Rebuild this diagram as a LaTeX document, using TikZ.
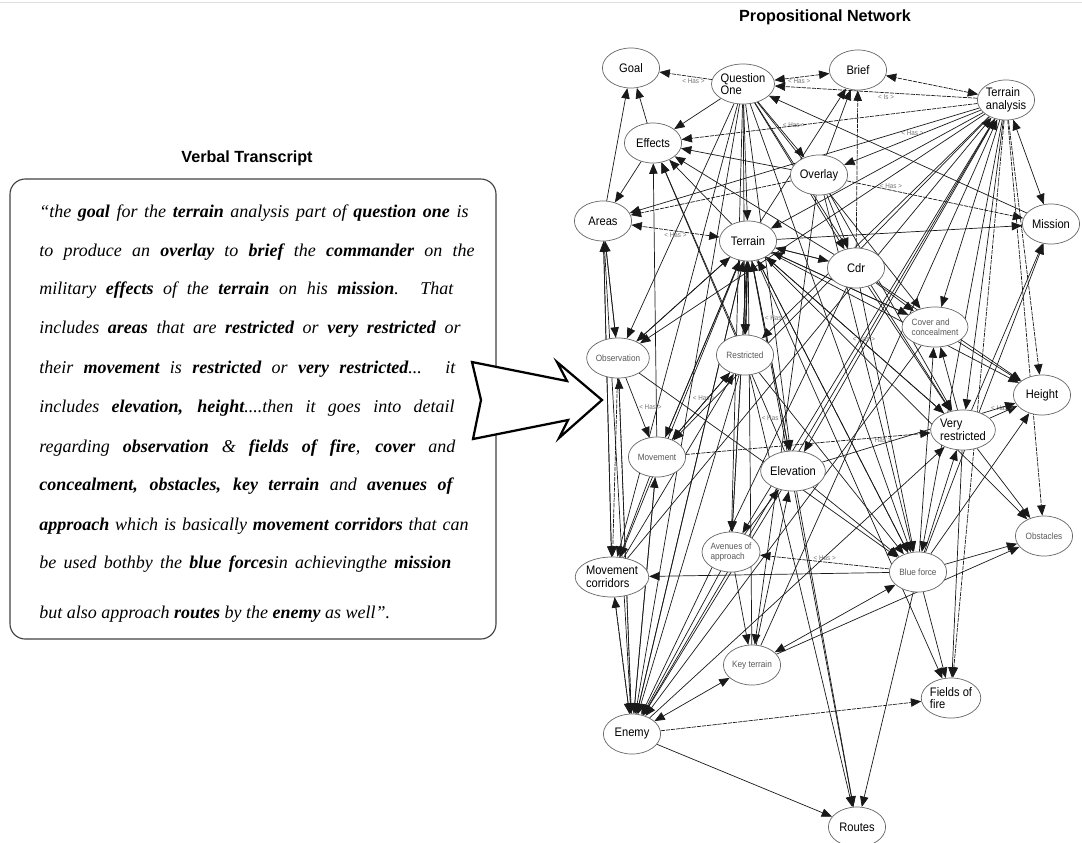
\documentclass[tikz,border=0pt]{standalone}
\usepackage{fontspec}
\setmainfont{Liberation Serif}
\setsansfont{Liberation Sans}
\newfontfamily\netfont[FakeStretch=0.9]{Liberation Sans}
\usepackage{tikz}
\usetikzlibrary{shapes.geometric,arrows.meta,backgrounds}

\begin{document}
\begin{tikzpicture}[x=0.025cm, y=-0.025cm, >={Triangle[length=2.6mm,width=2.1mm]},
    prop/.style={ellipse, draw=black!60, fill=white, line width=0.5pt, minimum width=1.43cm, minimum height=1cm, inner sep=0pt, align=center, font=\netfont\fontsize{8.8}{9}\selectfont},
    faint/.style={prop, text=black!65, font=\netfont\fontsize{6.5}{6.8}\selectfont},
    arr/.style={->, draw=black!90, line width=0.5pt},
    darr/.style={arr, dash pattern=on 3pt off 0.7pt},
    lbl/.style={font=\netfont\fontsize{5}{5}\selectfont, text=black!55, inner sep=1pt},
    title/.style={font=\sffamily\bfseries\fontsize{11.5}{12}\selectfont},
    vline/.style={anchor=base west, inner sep=0pt, font=\itshape\fontsize{12.8}{14}\selectfont}]

\useasboundingbox (0,0) rectangle (1082,842);
\draw[black!12] (0,2) -- (1082,2);

% verbal transcript
\node[title] (vtitle) at (247,158) {Verbal Transcript};
\draw[black!75, line width=0.8pt, rounded corners=0.38cm] (10,179) rectangle (496,639);
\node[vline] (l1) at (39,217) {\makebox[10.73cm][s]{“the \textbf{goal} for the \textbf{terrain} analysis part of \textbf{question one} is}};
\node[vline] (l2) at (39,256) {\makebox[10.88cm][s]{to produce an \textbf{overlay} to \textbf{brief} the \textbf{commander} on the}};
\node[vline] (l3) at (39,294) {\makebox[10.35cm][s]{military \textbf{effects} of the \textbf{terrain} on his \textbf{mission}. That}};
\node[vline] (l4) at (39,333) {\makebox[10.53cm][s]{includes \textbf{areas} that are \textbf{restricted} or \textbf{very restricted} or}};
\node[vline] (l5) at (39,373) {\makebox[10.4cm][s]{their \textbf{movement} is \textbf{restricted} or \textbf{very restricted}... it}};
\node[vline] (l6) at (39,412) {\makebox[10.38cm][s]{includes \textbf{elevation, height}....then it goes into detail}};
\node[vline] (l7) at (39,452) {\makebox[10.4cm][s]{regarding \textbf{observation} \& \textbf{fields of fire}, \textbf{cover} and}};
\node[vline] (l8) at (39,490) {\makebox[10.33cm][s]{\textbf{concealment, obstacles, key terrain} and \textbf{avenues of}}};
\node[vline] (l9) at (39,530) {\makebox[10.73cm][s]{\textbf{approach} which is basically \textbf{movement corridors} that can}};
\node[vline] (l10) at (39,568) {\makebox[10.3cm][s]{be used bothby the \textbf{blue forces}in achievingthe \textbf{mission}}};
\node[vline] (l11) at (39,618) {but also approach \textbf{routes} by the \textbf{enemy} as well”.};

% big arrow
\draw[line width=1.6pt, fill=white, line join=miter] (472,362) -- (567,381) -- (557,362) -- (602,400) -- (559,438) -- (568,420) -- (473,439) -- (481,400) -- cycle;

% propositional network
\node[title] (ntitle) at (825,17) {Propositional Network};

\node[prop] (goal) at (631,68) {Goal};
\node[prop, align=left] (q1) at (743,84) {Question\\One};
\node[prop] (brief) at (858,70) {Brief};
\node[prop, align=left] (ta) at (1006,100) {Terrain\\analysis};
\node[prop] (effects) at (653,143) {Effects};
\node[prop] (overlay) at (819,175) {Overlay};
\node[prop] (areas) at (603,221) {Areas};
\node[prop] (terrain) at (748,241) {Terrain};
\node[prop] (mission) at (1051,224) {Mission};
\node[prop] (cdr) at (856,268) {Cdr};
\node[faint, align=left] (cover) at (935,327) {Cover and\\concealment};
\node[faint] (obs) at (618,358) {Observation};
\node[faint] (restr) at (745,355) {Restricted};
\node[prop] (height) at (1042,395) {Height};
\node[prop, align=left] (veryr) at (963,430) {Very\\restricted};
\node[faint] (movement) at (657,457) {Movement};
\node[prop] (elev) at (793,471) {Elevation};
\node[faint, align=left] (avenues) at (731,552) {Avenues of\\approach};
\node[faint] (obstacles) at (1044,536) {Obstacles};
\node[prop, align=left] (mcorr) at (612,577) {Movement\\corridors};
\node[faint] (blue) at (918,572) {Blue force};
\node[faint] (keyt) at (752,665) {Key terrain};
\node[prop, align=left] (fields) at (951,698) {Fields of\\fire};
\node[prop] (enemy) at (632,734) {Enemy};
\node[prop] (routes) at (857,827) {Routes};

\begin{pgfonlayer}{background}
% question one
\draw[darr] (q1) -- node[lbl, below, pos=0.35] {< Has >} (goal);
\draw[darr, <->] (q1) -- node[lbl, below, pos=0.45] {< Has >} (brief);
\draw[arr] (q1) -- (effects);
\draw[arr] (q1) -- node[lbl, above right, pos=0.5] {< Has >} (overlay);
\foreach \dst in {terrain, obs, restr, elev, cdr, cover, veryr, blue, mcorr, avenues, enemy}
  \draw[arr] (q1) -- (\dst);

% terrain analysis
\draw[darr, <->] (ta) -- (brief);
\draw[darr] (ta) -- node[lbl, below, pos=0.45] {< Is >} (q1);
\draw[darr] (ta) -- (effects);
\draw[arr] (ta) -- node[lbl, above, pos=0.5] {< Has >} (overlay);
\draw[arr, <->] (ta) -- (mission);
\foreach \dst in {height, obstacles, fields}
  \draw[darr] (ta) -- (\dst);
\foreach \dst in {terrain, areas, obs, movement, restr, cover, veryr, blue, elev, avenues}
  \draw[arr] (ta) -- (\dst);
\foreach \src in {mcorr, enemy, keyt}
  \draw[arr] (\src) -- (ta);

% overlay
\draw[arr] (overlay) -- (effects);
\draw[darr] (overlay) -- (areas);
\draw[darr] (overlay) -- node[lbl, above, pos=0.25] {< Has >} (mission);
\draw[arr] (overlay) -- (brief);
\foreach \dst in {cdr, blue, veryr, keyt}
  \draw[arr] (overlay) -- (\dst);

% terrain
\draw[darr, <->] (terrain) -- node[lbl, below, pos=0.5] {< Has >} (areas);
\draw[arr] (terrain) -- node[lbl, right, pos=0.3] {< Has >} (elev);
\draw[arr] (terrain) -- node[lbl, above, pos=0.55] {< Has >} (veryr);
\draw[arr, line width=1pt] (terrain) -- (restr);
\foreach \dst in {mission, effects, cdr, brief, obs, movement, cover, height, blue, fields, routes, avenues, mcorr, enemy, obstacles}
  \draw[arr] (terrain) -- (\dst);
\foreach \src in {obs, movement, elev, avenues, keyt, blue, enemy, cdr, veryr, cover}
  \draw[arr] (\src) -- (terrain);

% upper half
\draw[arr] (effects) -- (goal);
\draw[arr] (areas) -- (goal);
\draw[arr] (effects) -- (areas);
\foreach \src in {restr, cdr, elev, movement}
  \draw[arr] (\src) -- (effects);
\foreach \src in {obs, mcorr}
  \draw[arr] (\src) -- (areas);
\draw[darr] (cdr) -- (brief);
\draw[arr] (mission) -- (q1);
\foreach \src in {veryr, blue}
  \draw[arr] (\src) -- (mission);

% middle
\draw[arr] (veryr) -- node[lbl, above, pos=0.45] {< Has >} (height);
\draw[arr] (elev) -- node[lbl, above, pos=0.3] {< Has >} (height);
\foreach \src in {cdr, cover, blue}
  \draw[arr] (\src) -- (height);
\draw[darr] (movement) -- (veryr);
\foreach \src in {cdr, enemy, blue}
  \draw[arr] (\src) -- (veryr);
\foreach \src in {veryr, blue, cdr}
  \draw[arr] (\src) -- (cover);
\foreach \src in {veryr, keyt, blue}
  \draw[arr] (\src) -- (obstacles);
\foreach \src in {restr, cdr, elev, obs}
  \draw[arr] (\src) -- (blue);
\draw[arr] (obs) -- node[lbl, right, pos=0.5] {< Has >} (movement);
\draw[arr] (restr) -- node[lbl, above, pos=0.45] {< Has >} (movement);
\draw[arr] (movement) -- (restr);
\draw[arr] (mcorr) -- (restr);
\draw[arr] (enemy) -- (movement);
\draw[arr] (areas) -- (obs);
\draw[darr] (enemy) -- (obs);

% lower half
\draw[darr] (blue) -- node[lbl, above, pos=0.5] {< Has >} (avenues);
\draw[arr, <->] (keyt) -- (blue);
\foreach \dst in {mcorr, fields, routes}
  \draw[arr] (blue) -- (\dst);
\draw[arr] (veryr) -- (fields);
\draw[darr] (enemy) -- (fields);
\draw[arr] (restr) -- node[lbl, right, pos=0.1] {< Has >} (routes);
\draw[arr] (elev) -- (routes);
\draw[arr] (enemy) -- (routes);
\foreach \src in {mcorr, obs, areas, movement, avenues, restr, elev, cdr, cover}
  \draw[arr] (\src) -- (enemy);
\draw[arr, <->] (keyt) -- (enemy);
\draw[darr] (enemy) -- (mcorr);
\draw[darr] (obs) -- (mcorr);
\draw[arr] (movement) -- (mcorr);
\draw[arr] (areas) -- (mcorr);
\draw[arr] (avenues) -- (keyt);
\draw[arr] (avenues) -- (elev);
\draw[arr] (keyt) -- (elev);
\end{pgfonlayer}
\end{tikzpicture}
\end{document}
